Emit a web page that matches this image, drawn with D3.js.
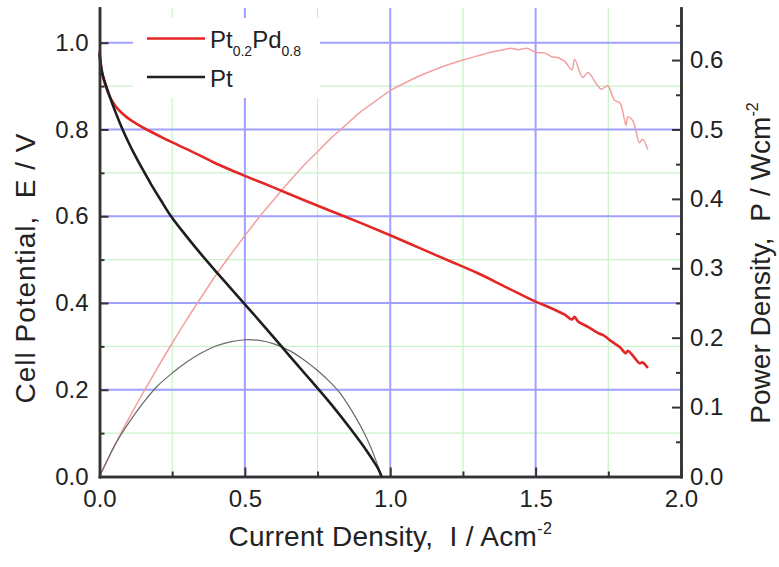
<!DOCTYPE html>
<html>
<head>
<meta charset="utf-8">
<script src="https://cdn.jsdelivr.net/npm/d3@7"></script>
<style>
    body { margin: 0; background: #fff; }
    svg { display: block; font-family: "Liberation Sans", Arial, Helvetica, sans-serif; }
    .axis path, .axis line { stroke: #333; }
    .axis path { stroke-width: 2.5; }
    .axis line { stroke-width: 2; }
    .axis text { font-size: 24px; fill: #222; }
    .title { font-size: 28px; fill: #222; white-space: pre; }
    .legend text { font-size: 24px; fill: #222; }
</style>
</head>
<body>
<svg id="chart"></svg>
<script>
// current density I (A/cm2) vs cell potential E (V)
const ptPdPolarization = [
    [0, 0.98], [0.005, 0.95], [0.01, 0.928], [0.02, 0.902], [0.035, 0.876], [0.053, 0.856],
    [0.075, 0.839], [0.1, 0.825], [0.135, 0.81], [0.17, 0.797], [0.22, 0.78], [0.27, 0.764],
    [0.33, 0.745], [0.39, 0.725], [0.45, 0.707], [0.5, 0.693], [0.6, 0.666], [0.7, 0.638],
    [0.8, 0.611], [0.9, 0.584], [1.0, 0.556], [1.1, 0.527], [1.2, 0.498], [1.3, 0.469],
    [1.4, 0.436], [1.5, 0.403], [1.55, 0.389], [1.6, 0.373], [1.625, 0.362], [1.634, 0.368],
    [1.645, 0.358], [1.68, 0.345], [1.72, 0.329], [1.735, 0.325], [1.76, 0.312], [1.79, 0.298],
    [1.81, 0.284], [1.817, 0.29], [1.84, 0.274], [1.857, 0.261], [1.868, 0.263], [1.886, 0.25],
]

const ptPolarization = [
    [0, 0.975], [0.005, 0.945], [0.01, 0.928], [0.019, 0.908], [0.03, 0.886], [0.041, 0.865],
    [0.055, 0.84], [0.075, 0.807], [0.1, 0.77], [0.12, 0.743], [0.15, 0.706], [0.178, 0.673],
    [0.21, 0.638], [0.246, 0.6], [0.3, 0.553], [0.35, 0.512], [0.4, 0.473], [0.45, 0.435],
    [0.5, 0.397], [0.55, 0.359], [0.6, 0.32], [0.655, 0.277], [0.7, 0.242], [0.752, 0.202],
    [0.8, 0.164], [0.86, 0.113], [0.9, 0.077], [0.918, 0.06], [0.94, 0.038], [0.96, 0.016],
    [0.97, 0],
]

// current density I (A/cm2) vs power density P (W/cm2)
const ptPdPower = [
    [0, 0], [0.05, 0.043], [0.1, 0.083], [0.156, 0.125], [0.2, 0.157], [0.25, 0.192],
    [0.3, 0.226], [0.334, 0.248], [0.4, 0.29], [0.45, 0.319], [0.5, 0.347], [0.55, 0.374],
    [0.6, 0.399], [0.655, 0.426], [0.7, 0.447], [0.75, 0.468], [0.8, 0.489], [0.838, 0.503],
    [0.9, 0.526], [0.95, 0.541], [1.0, 0.556], [1.05, 0.567], [1.1, 0.577], [1.17, 0.589],
    [1.25, 0.6], [1.3, 0.606], [1.342, 0.611], [1.38, 0.614], [1.416, 0.617], [1.44, 0.615],
    [1.47, 0.617], [1.5, 0.611], [1.533, 0.61], [1.554, 0.605], [1.58, 0.603], [1.6, 0.598],
    [1.625, 0.586], [1.634, 0.601], [1.662, 0.575], [1.68, 0.582], [1.71, 0.565], [1.726, 0.558],
    [1.748, 0.563], [1.771, 0.542], [1.79, 0.538], [1.811, 0.506], [1.817, 0.518], [1.835, 0.512],
    [1.857, 0.481], [1.868, 0.486], [1.886, 0.471],
]

const ptPower = [
    [0, 0], [0.025, 0.022], [0.05, 0.043], [0.075, 0.061], [0.1, 0.077], [0.15, 0.106],
    [0.196, 0.129], [0.25, 0.149], [0.3, 0.165], [0.35, 0.178], [0.4, 0.188], [0.45, 0.194],
    [0.5, 0.197], [0.55, 0.196], [0.6, 0.191], [0.655, 0.181], [0.7, 0.169], [0.752, 0.152],
    [0.8, 0.133], [0.826, 0.121], [0.86, 0.1], [0.884, 0.083], [0.91, 0.063], [0.93, 0.045],
    [0.95, 0.024], [0.964, 0.007], [0.97, 0],
]

const xMajorTicks = [0, 0.5, 1.0, 1.5, 2.0]
const xMinorTicks = [0.25, 0.75, 1.25, 1.75]
const eMajorTicks = [0, 0.2, 0.4, 0.6, 0.8, 1.0]
const eMinorTicks = [0.1, 0.3, 0.5, 0.7, 0.9]
const pMajorTicks = [0, 0.1, 0.2, 0.3, 0.4, 0.5, 0.6]
const pMinorTicks = [0.05, 0.15, 0.25, 0.35, 0.45, 0.55, 0.65]

const WIDTH = 779
const HEIGHT = 567
const LEFT = 99.5
const RIGHT = 681
const TOP = 8
const BOTTOM = 476.5

const xScale = d3.scaleLinear().domain([0, 2]).range([LEFT, RIGHT])
const eScale = d3.scaleLinear().domain([0, 1.08]).range([BOTTOM, TOP])
const pScale = d3.scaleLinear().domain([0, 0.675]).range([BOTTOM, TOP])

const svg = d3.select('#chart')
    .attr('width', WIDTH)
    .attr('height', HEIGHT)
    .attr('viewBox', [0, 0, WIDTH, HEIGHT].join(' '))

// grid: green for minor, blue for major
const grid = svg.append('g')
grid.selectAll('.gx-minor').data(xMinorTicks).join('line')
    .attr('x1', d => xScale(d)).attr('x2', d => xScale(d))
    .attr('y1', TOP).attr('y2', BOTTOM)
    .attr('stroke', '#c9f2c9').attr('stroke-width', 1.2)
grid.selectAll('.gy-minor').data(eMinorTicks).join('line')
    .attr('x1', LEFT).attr('x2', RIGHT)
    .attr('y1', d => eScale(d)).attr('y2', d => eScale(d))
    .attr('stroke', '#c9f2c9').attr('stroke-width', 1.2)
grid.selectAll('.gx-major').data(xMajorTicks.slice(1, -1)).join('line')
    .attr('x1', d => xScale(d)).attr('x2', d => xScale(d))
    .attr('y1', TOP).attr('y2', BOTTOM)
    .attr('stroke', '#a0a0ff').attr('stroke-width', 2)
grid.selectAll('.gy-major').data(eMajorTicks.slice(1)).join('line')
    .attr('x1', LEFT).attr('x2', RIGHT)
    .attr('y1', d => eScale(d)).attr('y2', d => eScale(d))
    .attr('stroke', '#a0a0ff').attr('stroke-width', 2)

// legend backdrop hides the grid behind it
svg.append('rect')
    .attr('x', 133).attr('y', 18).attr('width', 187).attr('height', 80)
    .attr('fill', '#fff')

const eLine = d3.line().x(d => xScale(d[0])).y(d => eScale(d[1])).curve(d3.curveCatmullRom.alpha(0.5))
const pLine = d3.line().x(d => xScale(d[0])).y(d => pScale(d[1])).curve(d3.curveCatmullRom.alpha(0.5))

svg.append('path').datum(ptPdPower).attr('d', pLine)
    .attr('fill', 'none').attr('stroke', '#f2a0a0').attr('stroke-width', 1.5)
svg.append('path').datum(ptPower).attr('d', pLine)
    .attr('fill', 'none').attr('stroke', '#6a6a6a').attr('stroke-width', 1.2)
svg.append('path').datum(ptPdPolarization).attr('d', eLine)
    .attr('fill', 'none').attr('stroke', '#e32626').attr('stroke-width', 2.6)
svg.append('path').datum(ptPolarization).attr('d', eLine)
    .attr('fill', 'none').attr('stroke', '#1e1e1e').attr('stroke-width', 2.6)

// axes, ticks point inward
const fmt1 = d3.format('.1f')

svg.append('g').attr('class', 'axis')
    .attr('transform', `translate(0,${BOTTOM})`)
    .call(d3.axisBottom(xScale).tickValues(xMinorTicks).tickSize(-5).tickSizeOuter(0).tickFormat(''))
svg.append('g').attr('class', 'axis')
    .attr('transform', `translate(0,${BOTTOM})`)
    .call(d3.axisBottom(xScale).tickValues(xMajorTicks).tickSize(-9).tickSizeOuter(0).tickPadding(13).tickFormat(fmt1))

svg.append('g').attr('class', 'axis')
    .attr('transform', `translate(${LEFT},0)`)
    .call(d3.axisLeft(eScale).tickValues(eMinorTicks).tickSize(-5).tickSizeOuter(0).tickFormat(''))
svg.append('g').attr('class', 'axis')
    .attr('transform', `translate(${LEFT},0)`)
    .call(d3.axisLeft(eScale).tickValues(eMajorTicks).tickSize(-9).tickSizeOuter(0).tickPadding(11).tickFormat(fmt1))

svg.append('g').attr('class', 'axis')
    .attr('transform', `translate(${RIGHT},0)`)
    .call(d3.axisRight(pScale).tickValues(pMinorTicks).tickSize(-5).tickSizeOuter(0).tickFormat(''))
svg.append('g').attr('class', 'axis')
    .attr('transform', `translate(${RIGHT},0)`)
    .call(d3.axisRight(pScale).tickValues(pMajorTicks).tickSize(-9).tickSizeOuter(0).tickPadding(9).tickFormat(fmt1))

svg.selectAll('.axis .domain').attr('stroke-linecap', 'square')

// axis titles
const xTitle = svg.append('text').attr('class', 'title')
    .attr('x', (LEFT + RIGHT) / 2).attr('y', 546)
    .attr('text-anchor', 'middle')
    .style('letter-spacing', '0.3px')
xTitle.append('tspan').text('Current Density,  I / Acm')
xTitle.append('tspan').attr('dy', -12).style('font-size', '16px').text('-2')

svg.append('text').attr('class', 'title')
    .attr('transform', 'translate(35,268) rotate(-90)')
    .attr('text-anchor', 'middle')
    .style('letter-spacing', '1px')
    .text('Cell Potential,  E / V')

const pTitle = svg.append('text').attr('class', 'title')
    .attr('transform', 'translate(770,263) rotate(-90)')
    .attr('text-anchor', 'middle')
pTitle.append('tspan').text('Power Density,  P / Wcm')
pTitle.append('tspan').attr('dy', -12).style('font-size', '16px').text('-2')

// legend
const legendItems = [
    { y: 38.5, color: '#e32626', main: ['Pt', 'Pd'], subs: ['0.2', '0.8'] },
    { y: 77, color: '#1e1e1e', main: ['Pt'], subs: [] },
]
const legend = svg.append('g').attr('class', 'legend')
legendItems.forEach(item => {
    legend.append('line')
        .attr('x1', 147).attr('x2', 205)
        .attr('y1', item.y).attr('y2', item.y)
        .attr('stroke', item.color).attr('stroke-width', 2.6)
    const t = legend.append('text').attr('x', 210).attr('y', item.y + 9.5)
    item.main.forEach((m, i) => {
        t.append('tspan').attr('dy', i === 0 ? 0 : -8).text(m)
        if (item.subs[i]) {
            t.append('tspan').attr('dy', 8).style('font-size', '14px').text(item.subs[i])
        }
    })
})
</script>
</body>
</html>
